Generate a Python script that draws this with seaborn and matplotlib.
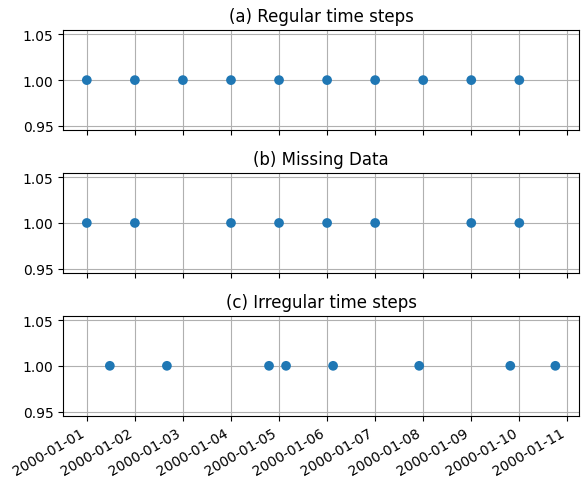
import numpy as np
import pandas as pd
import matplotlib
matplotlib.use("Agg")
import matplotlib.pyplot as plt
import seaborn as sns

# ── data ──────────────────────────────────────────────────────────────────────
regular_dates = pd.date_range("2000-01-01", "2000-01-10", freq="D")
missing_dates = pd.to_datetime(["2000-01-01", "2000-01-02", "2000-01-04", "2000-01-05",
                                "2000-01-06", "2000-01-07", "2000-01-09", "2000-01-10"])
# irregular steps, read as hours after 2000-01-01 00:00
irregular_hours = [11.5, 40, 91, 99.5, 123, 166, 211.5, 234]
irregular_dates = pd.Timestamp("2000-01-01") + pd.to_timedelta(irregular_hours, unit="h")

titles = ["(a) Regular time steps", "(b) Missing Data", "(c) Irregular time steps"]
series = [regular_dates, missing_dates, irregular_dates]

# ── plot ──────────────────────────────────────────────────────────────────────
fig, axes = plt.subplots(3, 1, figsize=(5.87, 4.89), sharex=True)

for ax, dates, title in zip(axes, series, titles):
    df = pd.DataFrame({"time": dates, "value": np.ones(len(dates))})
    sns.scatterplot(data=df, x="time", y="value", ax=ax, s=49,
                    color="#1f77b4", edgecolor="none", linewidth=0, zorder=3)
    ax.set_title(title)
    ax.set_xlabel("")
    ax.set_ylabel("")
    ax.set_ylim(0.945, 1.055)
    ax.set_yticks([0.95, 1.00, 1.05])
    ax.grid(True, color="#b0b0b0", linewidth=0.8)
    ax.set_axisbelow(True)

fig.autofmt_xdate()
fig.subplots_adjust(left=0.108, right=0.986, top=0.937, bottom=0.147, hspace=0.42)
plt.savefig("out.png", dpi=100)
